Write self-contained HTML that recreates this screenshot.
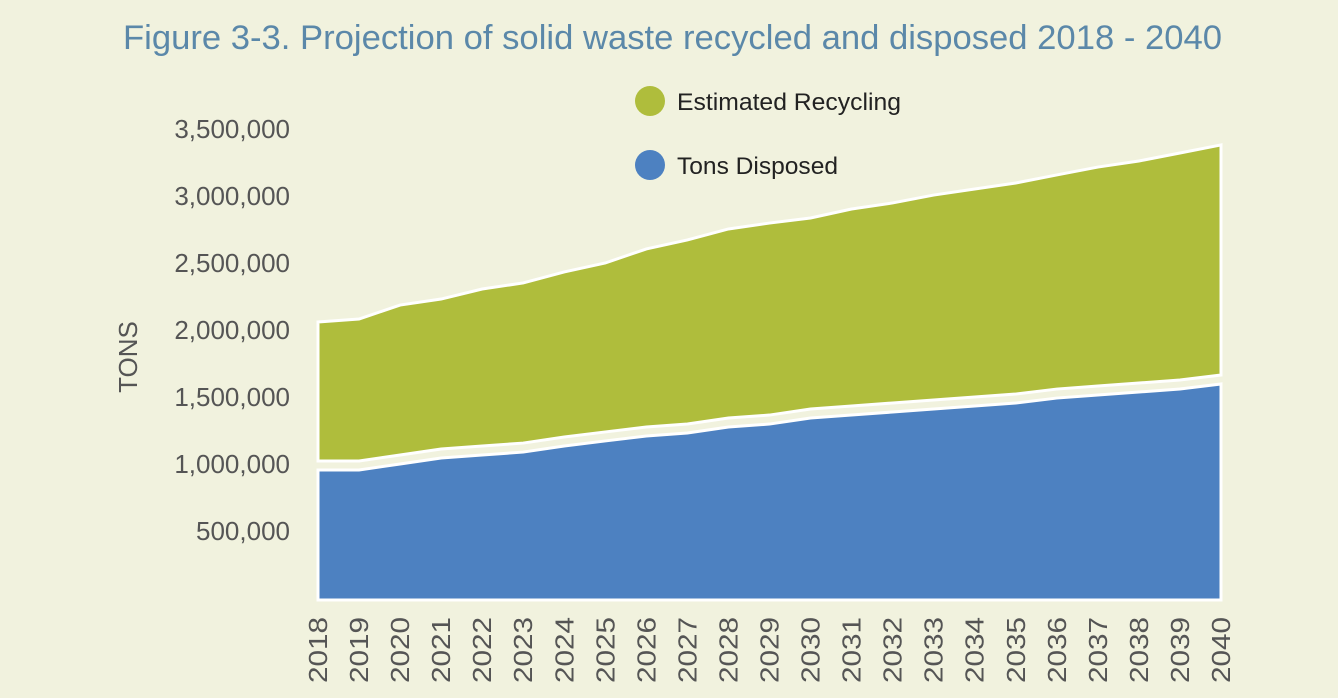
<!DOCTYPE html>
<html><head><meta charset="utf-8"><style>
body{margin:0;background:#f1f2de;}
svg{display:block;font-family:"Liberation Sans",sans-serif;}
</style></head><body>
<svg id="chart" width="1338" height="698" viewBox="0 0 1338 698">
<rect width="1338" height="698" fill="#f1f2de"/>
<text x="123" y="49" textLength="1099" lengthAdjust="spacingAndGlyphs" font-size="34" fill="#5b88a9">Figure 3-3. Projection of solid waste recycled and disposed 2018 - 2040</text>
<text transform="translate(137,357) rotate(-90)" text-anchor="middle" font-size="26" fill="#555">TONS</text>
<g id="yticks"></g><g id="xticks"></g><g id="areas"></g>
<circle cx="650" cy="101" r="15" fill="#afbd3c"/>
<text x="677" y="110" textLength="224" lengthAdjust="spacingAndGlyphs" font-size="24" fill="#222">Estimated Recycling</text>
<circle cx="650" cy="165" r="15" fill="#4d81c1"/>
<text x="677" y="174" textLength="161" lengthAdjust="spacingAndGlyphs" font-size="24" fill="#222">Tons Disposed</text>
</svg>
<script>
const years=[2018,2019,2020,2021,2022,2023,2024,2025,2026,2027,2028,2029,2030,2031,2032,2033,2034,2035,2036,2037,2038,2039,2040];
const disposed=[970000,970000,1015000,1060000,1082000,1104000,1149000,1187000,1224000,1246000,1291000,1313000,1358000,1381000,1403000,1425000,1448000,1470000,1507000,1530000,1552000,1575000,1612000];
const total=[2075000,2097000,2201000,2246000,2321000,2366000,2448000,2515000,2620000,2687000,2769000,2813000,2851000,2918000,2963000,3022000,3067000,3112000,3172000,3231000,3276000,3336000,3396000];
const yTickValues=[500000,1000000,1500000,2000000,2500000,3000000,3500000];
const yTickLabels=["500,000","1,000,000","1,500,000","2,000,000","2,500,000","3,000,000","3,500,000"];
const NS="http://www.w3.org/2000/svg";
const x0=318,x1=1221,yBase=600,pxPerTon=67/500000,gap=9;
const xs=i=>x0+(x1-x0)*i/(years.length-1);
const ys=v=>yBase-v*pxPerTon;
const yt=document.getElementById('yticks');
yTickValues.forEach((v,i)=>{const t=document.createElementNS(NS,'text');
t.setAttribute('x',290);t.setAttribute('y',ys(v)+7);t.setAttribute('text-anchor','end');
t.setAttribute('font-size','26');t.setAttribute('fill','#555');t.textContent=yTickLabels[i];


yt.appendChild(t);});
const xt=document.getElementById('xticks');
years.forEach((y,i)=>{const t=document.createElementNS(NS,'text');
t.setAttribute('transform',`translate(${xs(i)+9},683) rotate(-90)`);
t.setAttribute('font-size','26');t.setAttribute('fill','#555');t.setAttribute('textLength','66');t.setAttribute('lengthAdjust','spacingAndGlyphs');t.textContent=y;


xt.appendChild(t);});
const ar=document.getElementById('areas');
let g='',b='';
years.forEach((_,i)=>{g+=`${xs(i)},${ys(total[i])} `;});
for(let i=years.length-1;i>=0;i--)g+=`${xs(i)},${ys(disposed[i])-gap} `;
years.forEach((_,i)=>{b+=`${xs(i)},${ys(disposed[i])} `;});
b+=`${x1},${yBase} ${x0},${yBase}`;
const pb=document.createElementNS(NS,'polygon');
pb.setAttribute('points',b);pb.setAttribute('fill','#4d81c1');pb.setAttribute('stroke','#fff');pb.setAttribute('stroke-width','3');


ar.appendChild(pb);
const pg=document.createElementNS(NS,'polygon');
pg.setAttribute('points',g);pg.setAttribute('fill','#afbd3c');pg.setAttribute('stroke','#fff');pg.setAttribute('stroke-width','3');


ar.appendChild(pg);
</script>
</body></html>
